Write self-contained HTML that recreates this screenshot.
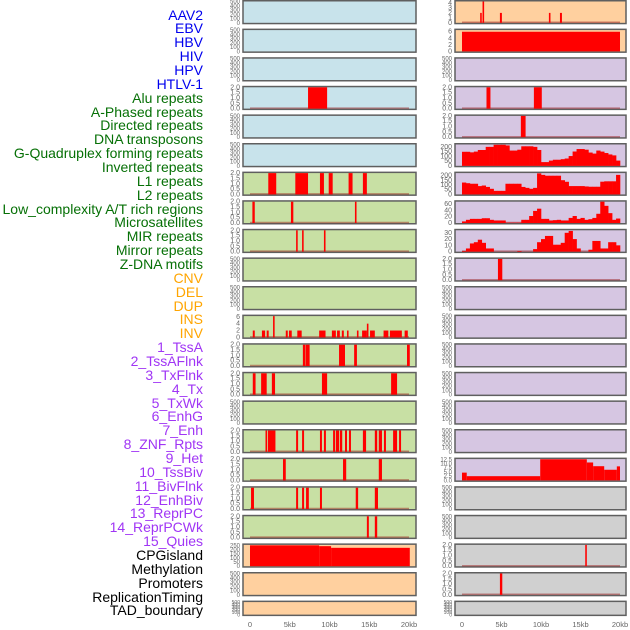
<!DOCTYPE html>
<html><head><meta charset="utf-8">
<style>
html,body{margin:0;padding:0;background:#fff;}
#wrap{position:relative;width:630px;height:630px;overflow:hidden;font-family:"Liberation Sans",sans-serif;}
.lab{position:absolute;right:427px;font-size:14px;line-height:14px;white-space:nowrap;}
svg{position:absolute;left:0;top:0;}
</style></head>
<body>
<div id="wrap">
<svg id="chart" width="630" height="630"></svg>
</div>
<script>
const labelNames = ["AAV2","EBV","HBV","HIV","HPV","HTLV-1","Alu repeats","A-Phased repeats","Directed repeats","DNA transposons","G-Quadruplex forming repeats","Inverted repeats","L1 repeats","L2 repeats","Low_complexity A/T rich regions","Microsatellites","MIR repeats","Mirror repeats","Z-DNA motifs","CNV","DEL","DUP","INS","INV","1_TssA","2_TssAFlnk","3_TxFlnk","4_Tx","5_TxWk","6_EnhG","7_Enh","8_ZNF_Rpts","9_Het","10_TssBiv","11_BivFlnk","12_EnhBiv","13_ReprPC","14_ReprPCWk","15_Quies","CPGisland","Methylation","Promoters","ReplicationTiming","TAD_boundary"];
const labelGroups = [6,13,5,15,5];
const groupColors = ["#0000ee","#067006","#ffa500","#a035f5","#000000"];

const xTicks = [0,5,10,15,20];
const xTickLabels = ["0","5kb","10kb","15kb","20kb"];

const ticksEmpty = [0,100,200,300,400,500];
const ticksBin = [0,0.5,1,1.5,2];
const ticksAAV = [0,1,2,3,4];
const ticksEBV = [0,2,4,6];
const ticks200 = [0,50,100,150,200];
const ticks60 = [0,20,40,60];
const ticks30 = [0,10,20,30];
const ticks12 = [0,2.5,5,7.5,10,12.5];
const ticks6 = [0,2,4,6];
const ticks250 = [0,50,100,150,200,250];

const leftAlu = [[7.3,9.7,2]];
const leftL1 = [[2.3,3.3,2],[5.7,7.3,2],[8.8,9.3,2],[9.9,10.4,2],[12.4,12.9,2],[14.2,14.7,2]];
const leftL2 = [[0.3,0.6,2],[5.15,5.45,2],[13.2,13.4,2]];
const leftLowc = [[5.8,6.0,2],[6.55,6.75,2],[9.3,9.5,2]];
const leftINS = [[0.35,0.6,2],[1.5,1.9,2],[2.1,2.35,2],[2.9,3.1,6.2],[4.5,4.75,2],[4.9,5.25,2],[5.95,6.5,2],[8.7,9.5,2],[10.3,10.8,2],[10.95,11.3,2],[11.55,11.8,2],[12.2,12.4,2],[13.45,13.65,2],[14.1,14.7,2],[14.7,14.9,4],[15.1,15.7,2],[16.8,17.4,2],[17.6,19.1,2],[19.45,19.85,2]];
const leftR12 = [[6.65,6.95,2],[7.0,7.5,2],[11.2,11.95,2],[13.1,13.45,2],[19.75,20.1,2]];
const leftR13 = [[0.35,0.7,2],[1.4,2.1,2],[2.75,3.15,2],[9.05,9.7,2],[17.75,18.5,2]];
const leftR15 = [[1.95,2.15,2],[2.25,3.2,2],[5.8,6.05,2],[6.55,6.8,2],[8.8,9.05,2],[9.3,9.55,2],[10.45,10.7,2],[10.8,11.2,2],[11.3,11.6,2],[11.95,12.2,2],[12.45,12.7,2],[14.2,14.6,2],[15.7,16.0,2],[16.2,16.6,2],[16.85,17.1,2],[18.0,18.5,2],[18.75,19.0,2]];
const leftR16 = [[4.15,4.5,2],[11.7,12.1,2],[16.2,16.6,2]];
const leftR17 = [[0.13,0.5,2],[5.8,6.05,2],[6.55,6.8,2],[7.05,7.4,2],[8.8,9.05,2],[13.3,13.6,2],[15.7,16.1,2]];
const leftR18 = [[14.7,14.95,2],[15.7,16.0,2]];
const leftCPG = [[0,8.7,250],[8.7,10.2,240],[10.2,20.1,220]];

const rightAAV = [[2.3,2.5,2],[2.6,2.8,4.3],[4.8,5.05,2],[11.0,11.2,2],[12.4,12.65,2]];
const rightEBV = [[0,20,6]];
const rightAlu = [[3.1,3.6,2],[9.1,10.1,2]];
const rightDir = [[7.45,8.05,2]];
const rightGquad = [148,148,142,150,167,167,200,200,222,222,222,215,161,161,170,206,206,206,200,167,39,39,55,64,64,70,77,103,151,177,177,170,140,129,161,150,135,120,110,55];
const rightL1 = [127,120,114,114,89,95,80,60,38,38,38,114,114,114,114,80,70,60,70,225,209,200,200,200,200,152,135,89,89,89,89,85,82,82,82,136,140,140,140,209];
const rightLowc = [5,10,13,13,13,15,15,10,8,8,8,1,1,1,1,10,10,22,38,45,13,13,8,9,10,8,8,16,22,13,16,10,12,16,29,67,54,31,10,14];
const rightMIR = [1,5,13,15,19,14,5,5,0,0,0,0,0,0,1,0,0,0,4,15,20,25,25,11,11,14,30,33,20,5,0,0,3,17,17,5,5,15,15,10];
const rightZDNA = [[4.55,5.1,2]];
const rightHet = [[0,0.6,4.6],[0.6,9.9,2.5],[9.9,15.8,12.5],[15.8,16.6,10.6],[16.6,18,8.4],[18,19.6,6.3],[19.6,20,8.3]];
const rightR19 = [[15.6,15.8,2]];
const rightR20 = [[4.8,5.1,2]];

const BLUE="#c8e3eb", GREEN="#c8e0a4", PEACH="#ffd09f", LAV="#d6c6e2", GRAY="#d0d0d0";
const leftRows = [
 {bg:BLUE,t:ticksEmpty},{bg:BLUE,t:ticksEmpty},{bg:BLUE,t:ticksEmpty},
 {bg:BLUE,t:ticksBin,s:leftAlu},{bg:BLUE,t:ticksEmpty},{bg:BLUE,t:ticksEmpty},
 {bg:GREEN,t:ticksBin,s:leftL1},{bg:GREEN,t:ticksBin,s:leftL2},{bg:GREEN,t:ticksBin,s:leftLowc},
 {bg:GREEN,t:ticksEmpty},{bg:GREEN,t:ticksEmpty},{bg:GREEN,t:ticks6,s:leftINS,ymax:6.2},
 {bg:GREEN,t:ticksBin,s:leftR12},{bg:GREEN,t:ticksBin,s:leftR13},{bg:GREEN,t:ticksEmpty},
 {bg:GREEN,t:ticksBin,s:leftR15},{bg:GREEN,t:ticksBin,s:leftR16},{bg:GREEN,t:ticksBin,s:leftR17},
 {bg:GREEN,t:ticksBin,s:leftR18},{bg:PEACH,t:ticks250,s:leftCPG,ymax:255,nobase:1},
 {bg:PEACH,t:ticksEmpty},{bg:PEACH,t:ticksEmpty}
];
const rightRows = [
 {bg:PEACH,t:ticksAAV,s:rightAAV,ymax:4.3},{bg:PEACH,t:ticksEBV,s:rightEBV,ymax:6.5,nobase:1},{bg:LAV,t:ticksEmpty},
 {bg:LAV,t:ticksBin,s:rightAlu},{bg:LAV,t:ticksBin,s:rightDir},{bg:LAV,t:ticks200,p:rightGquad,ymax:225},
 {bg:LAV,t:ticks200,p:rightL1,ymax:228},{bg:LAV,t:ticks60,p:rightLowc,ymax:67},{bg:LAV,t:ticks30,p:rightMIR,ymax:34},
 {bg:LAV,t:ticksBin,s:rightZDNA},{bg:LAV,t:ticksEmpty},{bg:LAV,t:ticksEmpty},{bg:LAV,t:ticksEmpty},
 {bg:LAV,t:ticksEmpty},{bg:LAV,t:ticksEmpty},{bg:LAV,t:ticksEmpty},{bg:LAV,t:ticks12,s:rightHet,ymax:12.6,nobase:1},
 {bg:GRAY,t:ticksEmpty},{bg:GRAY,t:ticksEmpty},{bg:GRAY,t:ticksBin,s:rightR19},{bg:GRAY,t:ticksBin,s:rightR20},{bg:GRAY,t:ticksEmpty}
];

const NS="http://www.w3.org/2000/svg";
const svg=document.getElementById('chart');
function mk(tag,attrs,parent){const e=document.createElementNS(NS,tag);for(const k in attrs)e.setAttribute(k,attrs[k]);(parent||svg).appendChild(e);return e;}

const wrap=document.getElementById('wrap');
let gi=0,cnt=0;
labelNames.forEach((n,i)=>{
  while(cnt>=labelGroups[gi]){cnt=0;gi++;}
  cnt++;
  const d=document.createElement('div');
  d.className='lab';
  d.style.top=(15+i*13.86-7.5)+'px';
  d.style.color=groupColors[gi];
  d.textContent=n;
  
  
  wrap.appendChild(d);
});

function rowTop(i){return i*28.6;}
function rowH(i){return i===21?15.5:24.3;}

function drawPanel(row,i,px0,px1,xz,xs,side){
  const top=rowTop(i),h=rowH(i);
  const g=mk('g',{});
  
  
  const r=mk('rect',{x:px0,y:top+0.75,width:px1-px0,height:h-1.5,fill:row.bg,stroke:'#5f5f5f','stroke-width':1.5},g);
  
  
  const t=row.t;
  const ymax=row.ymax||t[t.length-1];
  const y0=top+h-1.5, yTop=top+1.5;
  const ys=v=>y0-(v/ymax)*(y0-yTop);
  const xf=kb=>xz+kb*xs;
  t.forEach(v=>{
    const tx=mk('text',{x:px0-3,y:ys(v)+2,'font-size':ymaxFont(t,h),fill:'#666','text-anchor':'end'},g);
    tx.textContent=(t===ticksBin||t===ticks12)?v.toFixed(1):String(v);
    
    
  });
  if(row.s||row.p){
    if(!row.nobase){
      const bl=mk('line',{x1:xf(0),x2:xf(20),y1:y0-0.5,y2:y0-0.5,stroke:'rgba(150,20,20,0.45)','stroke-width':1.5},g);
      
      
    }
  }
  if(row.s){
    row.s.forEach(sg=>{
      const v=Math.min(sg[2],ymax);
      const b=mk('rect',{x:xf(sg[0]),y:ys(v),width:Math.max(1.2,xf(sg[1])-xf(sg[0])),height:y0-ys(v),fill:'#ff0000'},g);
      
      
    });
  }
  if(row.p){
    row.p.forEach((v,k)=>{
      const vv=Math.min(v,ymax);
      const b=mk('rect',{x:xf(k*0.5),y:ys(vv),width:xf((k+1)*0.5)-xf(k*0.5)+0.3,height:y0-ys(vv),fill:'#ff0000'},g);
      
      
    });
  }
}
function ymaxFont(t,h){return h<20?5:(t.length>5?6:7);}

leftRows.forEach((r,i)=>drawPanel(r,i,243,416,250,7.95,'left'));
rightRows.forEach((r,i)=>drawPanel(r,i,455,626,462,7.9,'right'));

[[250,7.95,'left'],[462,7.9,'right']].forEach(a=>{
  xTicks.forEach((v,k)=>{
    const tx=mk('text',{x:a[0]+v*a[1],y:627,'font-size':7.5,fill:'#666','text-anchor':'middle'});
    tx.textContent=xTickLabels[k];
    
    
  });
});
</script>
</body></html>
